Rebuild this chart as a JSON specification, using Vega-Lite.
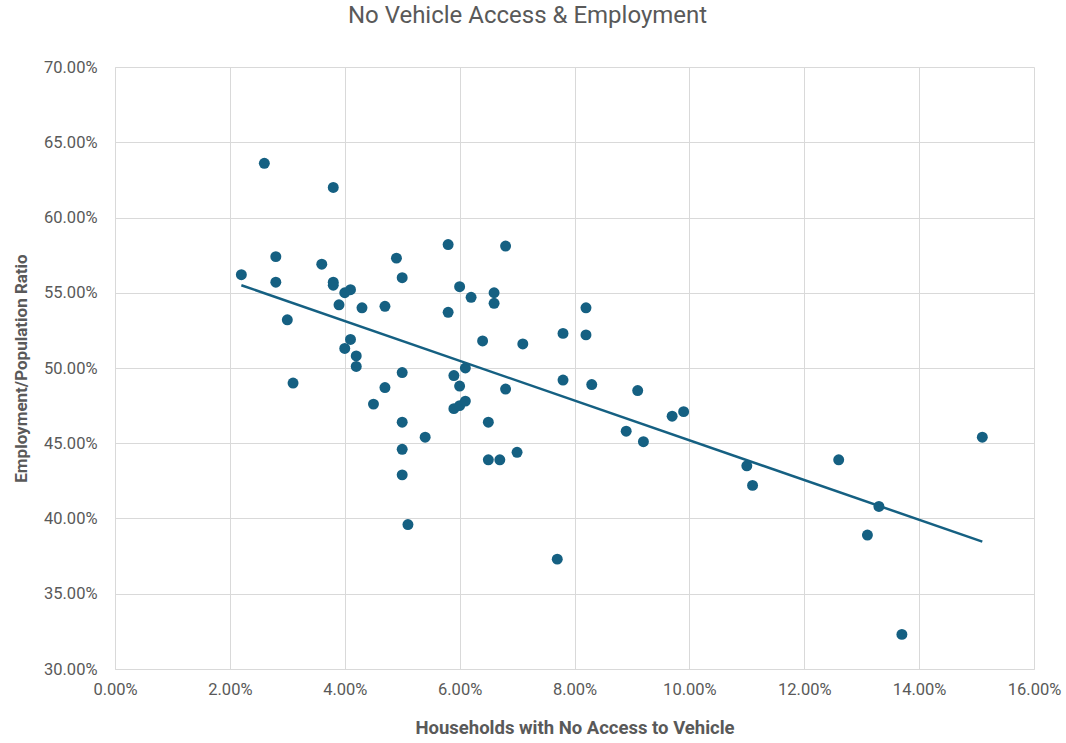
{
  "$schema": "https://vega.github.io/schema/vega-lite/v6.json",
  "width": 919,
  "height": 602,
  "autosize": "none",
  "padding": {"left": 115, "top": 67, "right": 32, "bottom": 74},
  "background": "white",
  "title": {
    "text": "No Vehicle Access & Employment",
    "anchor": "middle",
    "frame": "group",
    "dx": -47,
    "offset": 31,
    "fontSize": 24,
    "font": "Roboto",
    "fontWeight": "normal",
    "color": "#595959"
  },
  "config": {
    "view": {"stroke": null},
    "axis": {
      "gridColor": "#d9d9d9",
      "domainColor": "#d9d9d9",
      "ticks": false,
      "labelFlush": false,
      "labelColor": "#595959",
      "labelFont": "Roboto",
      "labelFontSize": 16.5,
      "titleColor": "#595959",
      "titleFont": "Roboto",
      "titleFontSize": 17,
      "titleFontWeight": "bold"
    }
  },
  "data": {
    "values": [
      {"x": 0.022, "y": 0.562}, {"x": 0.026, "y": 0.636}, {"x": 0.028, "y": 0.574}, {"x": 0.028, "y": 0.557},
      {"x": 0.030, "y": 0.532}, {"x": 0.031, "y": 0.490}, {"x": 0.036, "y": 0.569}, {"x": 0.038, "y": 0.620},
      {"x": 0.038, "y": 0.557}, {"x": 0.038, "y": 0.555}, {"x": 0.039, "y": 0.542}, {"x": 0.040, "y": 0.550},
      {"x": 0.041, "y": 0.552}, {"x": 0.040, "y": 0.513}, {"x": 0.041, "y": 0.519}, {"x": 0.042, "y": 0.508},
      {"x": 0.042, "y": 0.501}, {"x": 0.043, "y": 0.540}, {"x": 0.045, "y": 0.476}, {"x": 0.047, "y": 0.541},
      {"x": 0.047, "y": 0.487}, {"x": 0.049, "y": 0.573}, {"x": 0.050, "y": 0.560}, {"x": 0.050, "y": 0.497},
      {"x": 0.050, "y": 0.464}, {"x": 0.050, "y": 0.446}, {"x": 0.050, "y": 0.429}, {"x": 0.051, "y": 0.396},
      {"x": 0.054, "y": 0.454}, {"x": 0.058, "y": 0.582}, {"x": 0.058, "y": 0.537}, {"x": 0.059, "y": 0.495},
      {"x": 0.059, "y": 0.473}, {"x": 0.060, "y": 0.554}, {"x": 0.060, "y": 0.488}, {"x": 0.060, "y": 0.475},
      {"x": 0.061, "y": 0.500}, {"x": 0.061, "y": 0.478}, {"x": 0.062, "y": 0.547}, {"x": 0.064, "y": 0.518},
      {"x": 0.065, "y": 0.464}, {"x": 0.065, "y": 0.439}, {"x": 0.066, "y": 0.550}, {"x": 0.066, "y": 0.543},
      {"x": 0.067, "y": 0.439}, {"x": 0.068, "y": 0.581}, {"x": 0.068, "y": 0.486}, {"x": 0.070, "y": 0.444},
      {"x": 0.071, "y": 0.516}, {"x": 0.077, "y": 0.373}, {"x": 0.078, "y": 0.523}, {"x": 0.078, "y": 0.492},
      {"x": 0.082, "y": 0.540}, {"x": 0.082, "y": 0.522}, {"x": 0.083, "y": 0.489}, {"x": 0.089, "y": 0.458},
      {"x": 0.091, "y": 0.485}, {"x": 0.092, "y": 0.451}, {"x": 0.097, "y": 0.468}, {"x": 0.099, "y": 0.471},
      {"x": 0.110, "y": 0.435}, {"x": 0.111, "y": 0.422}, {"x": 0.126, "y": 0.439}, {"x": 0.131, "y": 0.389},
      {"x": 0.133, "y": 0.408}, {"x": 0.137, "y": 0.323}, {"x": 0.151, "y": 0.454}
    ]
  },
  "encoding": {
    "x": {
      "field": "x", "type": "quantitative",
      "scale": {"domain": [0, 0.16], "nice": false, "zero": false},
      "axis": {"format": ".2%", "values": [0, 0.02, 0.04, 0.06, 0.08, 0.1, 0.12, 0.14, 0.16], "labelPadding": 12, "titlePadding": 21, "titleFontSize": 18.5, "title": "Households with No Access to Vehicle"}
    },
    "y": {
      "field": "y", "type": "quantitative",
      "scale": {"domain": [0.3, 0.7], "nice": false, "zero": false},
      "axis": {"format": ".2%", "values": [0.3, 0.35, 0.4, 0.45, 0.5, 0.55, 0.6, 0.65, 0.7], "labelPadding": 18, "titlePadding": 13, "title": "Employment/Population Ratio"}
    }
  },
  "layer": [
    {
      "mark": {"type": "point", "filled": true, "size": 120, "opacity": 1, "color": "#156082"}
    },
    {
      "transform": [{"regression": "y", "on": "x"}],
      "mark": {"type": "line", "color": "#156082", "strokeWidth": 2.5}
    }
  ]
}
